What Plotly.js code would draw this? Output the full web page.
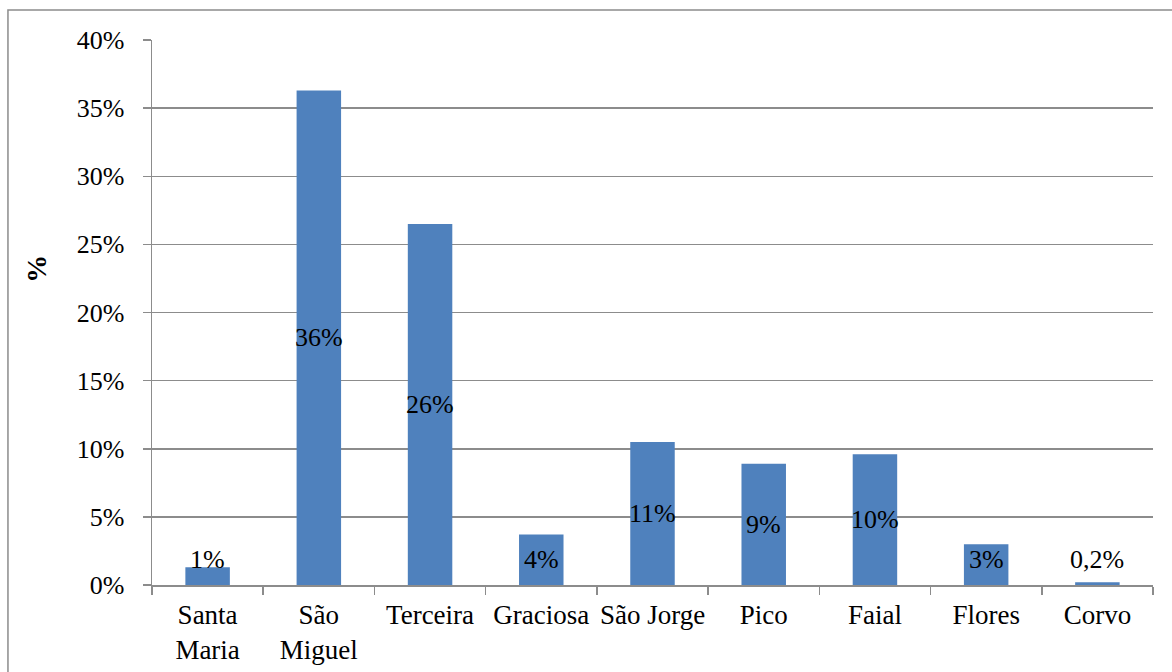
<!DOCTYPE html>
<html>
<head>
<meta charset="utf-8">
<script src="https://cdn.plot.ly/plotly-3.0.1.min.js"></script>
<style>
html,body{margin:0;padding:0;background:#fff}
#chart{width:1172px;height:672px}
</style>
</head>
<body>
<div id="chart"></div>
<script>
var categories = ["Santa<br>Maria", "São<br>Miguel", "Terceira", "Graciosa", "São Jorge", "Pico", "Faial", "Flores", "Corvo"];
var values = [1.3, 36.3, 26.5, 3.7, 10.5, 8.9, 9.6, 3.0, 0.2];
var labels = ["1%", "36%", "26%", "4%", "11%", "9%", "10%", "3%", "0,2%"];
var yTickVals = [0, 5, 10, 15, 20, 25, 30, 35, 40];
var yTickText = ["0%", "5%", "10%", "15%", "20%", "25%", "30%", "35%", "40%"];

var fontFam = "'Liberation Serif', 'Times New Roman', Times, serif";
var gridCol = "#8c8c8c";

var annotations = values.map(function (v, i) {
  return {
    x: categories[i], y: Math.max(v / 2, 1.85), xref: "x", yref: "y",
    text: labels[i], showarrow: false, xanchor: "center", yanchor: "middle",
    font: {family: fontFam, size: 26, color: "#000"}
  };
});
annotations.push({
  x: -0.115, y: 0.58, xref: "paper", yref: "paper", text: "<b>%</b>",
  showarrow: false, textangle: -90, xanchor: "center", yanchor: "middle",
  font: {family: fontFam, size: 28, color: "#000"}
});

var layout = {
  width: 1172, height: 672,
  margin: {l: 152, r: 19, t: 40, b: 87},
  paper_bgcolor: "#fff", plot_bgcolor: "#fff",
  showlegend: false,
  bargap: 0.6,
  font: {family: fontFam, size: 26, color: "#000"},
  xaxis: {
    type: "category", tickson: "boundaries", ticks: "outside", ticklen: 8,
    tickcolor: gridCol, tickwidth: 1.5, showline: true, linecolor: gridCol, linewidth: 1.5,
    showgrid: false, ticklabelstandoff: 5, tickangle: 0,
    tickfont: {family: fontFam, size: 27, color: "#000"}, fixedrange: true
  },
  yaxis: {
    range: [0, 40], tickvals: yTickVals, ticktext: yTickText, ticks: "outside", ticklen: 8,
    tickcolor: gridCol, tickwidth: 1.5, showline: true, linecolor: gridCol, linewidth: 1.5,
    showgrid: true, gridcolor: gridCol, gridwidth: 1.5, zeroline: false, ticklabelstandoff: 13,
    tickfont: {family: fontFam, size: 26, color: "#000"}, fixedrange: true
  },
  annotations: annotations,
  shapes: [{
    type: "rect", xref: "paper", yref: "paper",
    x0: -0.1439, x1: 1.2, y0: -0.3, y1: 1.055,
    line: {color: gridCol, width: 1.5}, fillcolor: "rgba(0,0,0,0)", layer: "below"
  }]
};

Plotly.newPlot("chart", [{
  type: "bar", x: categories, y: values,
  marker: {color: "#4f81bd"}, hoverinfo: "none"
}], layout, {displayModeBar: false, staticPlot: true});
</script>
</body>
</html>
